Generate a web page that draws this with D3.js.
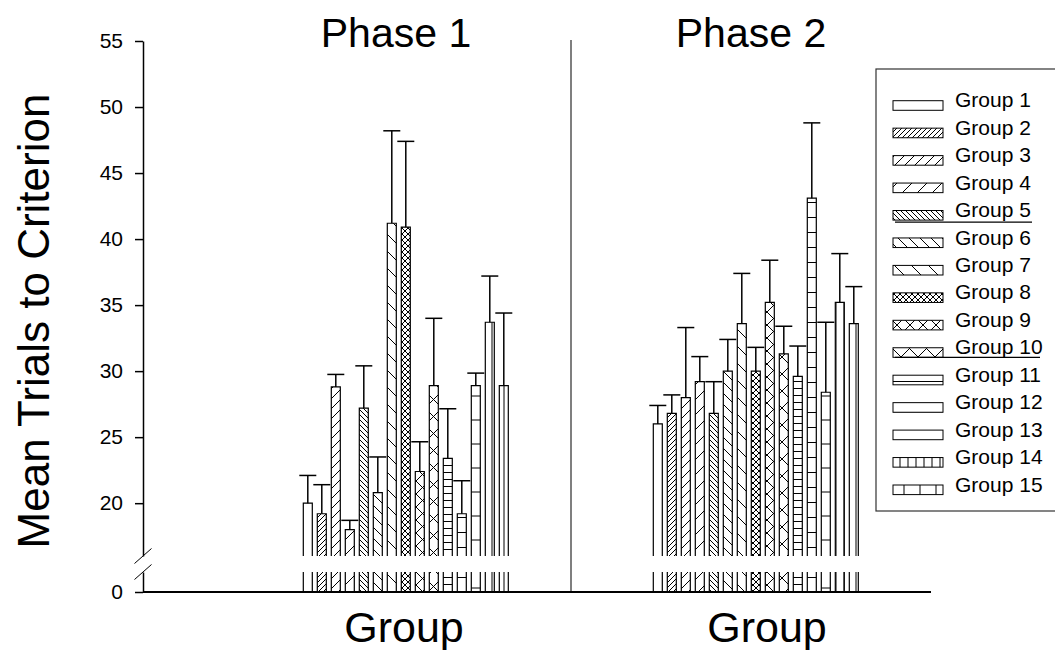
<!DOCTYPE html>
<html>
<head>
<meta charset="utf-8">
<script src="https://cdn.jsdelivr.net/npm/d3@7"></script>
<style>
  body { margin: 0; background: #fff; }
  svg { display: block; font-family: Arial, "Liberation Sans", sans-serif; }
</style>
</head>
<body>
<div class="chart"></div>
<script>
// data (means with upper error bar lengths)
const groups = ['Group 1', 'Group 2', 'Group 3', 'Group 4', 'Group 5', 'Group 6', 'Group 7', 'Group 8',
  'Group 9', 'Group 10', 'Group 11', 'Group 12', 'Group 13', 'Group 14', 'Group 15'];
const phases = ['Phase 1', 'Phase 2'];
const phase1Means = [20.0, 19.2, 28.8, 18.0, 27.2, 20.8, 41.2, 40.9, 22.4, 28.9, 23.4, 19.2, 28.9, 33.7, 28.9];
const phase1Errors = [2.1, 2.2, 0.95, 0.7, 3.2, 2.7, 7.0, 6.5, 2.25, 5.1, 3.75, 2.5, 0.95, 3.5, 5.5];
const phase2Means = [26.0, 26.8, 28.0, 29.2, 26.8, 30.0, 33.6, 30.0, 35.2, 31.3, 29.6, 43.1, 28.4, 35.2, 33.6];
const phase2Errors = [1.4, 1.4, 5.3, 1.9, 2.4, 2.4, 3.8, 1.8, 3.2, 2.1, 2.3, 5.7, 5.3, 3.7, 2.8];
const yTicksUpper = [20, 25, 30, 35, 40, 45, 50, 55];
const yTicksLower = [0];

// fill patterns for the groups, in order
const patternStyles = [
  {type: 'none'}, {type: 'fwd', s: 5}, {type: 'fwd', s: 10}, {type: 'fwd', s: 15},
  {type: 'back', s: 5}, {type: 'back', s: 11}, {type: 'back', s: 17},
  {type: 'cross', s: 6}, {type: 'cross', s: 13}, {type: 'cross', s: 17},
  {type: 'horiz', s: 7}, {type: 'horiz', s: 15}, {type: 'horiz', s: 24},
  {type: 'vert', s: 8}, {type: 'vert', s: 16}
];

const width = 1055;
const height = 650;
const axisX = 143;
const dividerX = 571;
const axisEndX = 931;
const baseY = 592;

// broken y axis: a short bottom piece for 0, the main piece from 16 up
const breakLow = 1.5;
const breakHigh = 16;
const yLow = d3.scaleLinear().domain([0, breakLow]).range([baseY, 572]);
const yUp = d3.scaleLinear().domain([breakHigh, 55]).range([556, 41]);

const xPhase = [
  d3.scaleBand().domain(groups).range([303.3, 508.3]).paddingInner(5 / 14).paddingOuter(0),
  d3.scaleBand().domain(groups).range([653.3, 858.3]).paddingInner(5 / 14).paddingOuter(0)
];
const phaseData = [
  groups.map((g, i) => ({group: g, i, mean: phase1Means[i], err: phase1Errors[i]})),
  groups.map((g, i) => ({group: g, i, mean: phase2Means[i], err: phase2Errors[i]}))
];

const svg = d3.select('.chart').append('svg')
  .attr('width', width).attr('height', height);

// patterns
const defs = svg.append('defs');
patternStyles.forEach((p, i) => {
  const s = p.s || 10;
  const pat = defs.append('pattern')
    .attr('id', 'pat' + i)
    .attr('patternUnits', 'userSpaceOnUse')
    .attr('width', s).attr('height', s);
  pat.append('rect').attr('width', s).attr('height', s).attr('fill', '#fff');
  let d = '';
  if (p.type === 'fwd' || p.type === 'cross') {
    d += `M-1,1 L1,-1 M0,${s} L${s},0 M${s - 1},${s + 1} L${s + 1},${s - 1} `;
  }
  if (p.type === 'back' || p.type === 'cross') {
    d += `M-1,${s - 1} L1,${s + 1} M0,0 L${s},${s} M${s - 1},-1 L${s + 1},1 `;
  }
  if (p.type === 'horiz') d += `M0,${s / 2} H${s}`;
  if (p.type === 'vert') d += `M${s / 2},0 V${s}`;
  if (d) {
    pat.append('path').attr('d', d)
      .attr('stroke', '#000').attr('stroke-width', 1).attr('fill', 'none');
  }
});

// y axis, two pieces
const yAxisUp = svg.append('g')
  .attr('transform', `translate(${axisX},0)`)
  .call(d3.axisLeft(yUp).tickValues(yTicksUpper).tickFormat(d3.format('d'))
    .tickSize(8).tickPadding(12).tickSizeOuter(0));
const yAxisLow = svg.append('g')
  .attr('transform', `translate(${axisX},0)`)
  .call(d3.axisLeft(yLow).tickValues(yTicksLower).tickFormat(d3.format('d'))
    .tickSize(8).tickPadding(12).tickSizeOuter(0));
[yAxisUp, yAxisLow].forEach(g => {
  g.selectAll('path, line').attr('stroke', '#000').attr('stroke-width', 1.5);
  g.selectAll('text').attr('font-size', 21).attr('fill', '#000')
    .attr('font-family', 'Arial, "Liberation Sans", sans-serif');
});

// break marks
[yUp(breakHigh), yLow(breakLow)].forEach(yb => {
  svg.append('line')
    .attr('x1', axisX - 8.5).attr('y1', yb + 7.5)
    .attr('x2', axisX + 8.5).attr('y2', yb - 7.5)
    .attr('stroke', '#000').attr('stroke-width', 1);
});

// divider between phases
svg.append('line')
  .attr('x1', dividerX).attr('x2', dividerX)
  .attr('y1', 40).attr('y2', baseY)
  .attr('stroke', '#555').attr('stroke-width', 1.5);

// bars
phaseData.forEach((rows, p) => {
  const x = xPhase[p];
  const w = x.bandwidth();
  const g = svg.append('g').attr('class', 'phase' + (p + 1));

  const bar = g.selectAll('.bar').data(rows).enter().append('g').attr('class', 'bar');
  // upper piece
  bar.append('rect')
    .attr('x', d => x(d.group))
    .attr('y', d => yUp(d.mean))
    .attr('width', w)
    .attr('height', d => yUp(breakHigh) - yUp(d.mean))
    .attr('fill', d => `url(#pat${d.i})`);
  bar.append('path')
    .attr('d', d => `M${x(d.group)},${yUp(breakHigh)} V${yUp(d.mean)} H${x(d.group) + w} V${yUp(breakHigh)}`)
    .attr('fill', 'none').attr('stroke', '#000').attr('stroke-width', 1.2);
  // lower piece
  bar.append('rect')
    .attr('x', d => x(d.group))
    .attr('y', yLow(breakLow))
    .attr('width', w)
    .attr('height', yLow(0) - yLow(breakLow))
    .attr('fill', d => `url(#pat${d.i})`);
  bar.append('path')
    .attr('d', d => `M${x(d.group)},${yLow(breakLow)} V${yLow(0)} M${x(d.group) + w},${yLow(breakLow)} V${yLow(0)}`)
    .attr('fill', 'none').attr('stroke', '#000').attr('stroke-width', 1.2);

  // error bars (upper only)
  bar.append('line')
    .attr('x1', d => x(d.group) + w / 2).attr('x2', d => x(d.group) + w / 2)
    .attr('y1', d => yUp(d.mean)).attr('y2', d => yUp(d.mean + d.err))
    .attr('stroke', '#000').attr('stroke-width', 1.5);
  bar.append('line')
    .attr('x1', d => x(d.group) + w / 2 - 8.5).attr('x2', d => x(d.group) + w / 2 + 8.5)
    .attr('y1', d => yUp(d.mean + d.err)).attr('y2', d => yUp(d.mean + d.err))
    .attr('stroke', '#000').attr('stroke-width', 1.5);
});

// x axis line
svg.append('line')
  .attr('x1', axisX).attr('x2', axisEndX)
  .attr('y1', baseY).attr('y2', baseY)
  .attr('stroke', '#000').attr('stroke-width', 2);

// titles and axis labels
const titleX = [396, 751];
const groupLabelX = [404, 767];
phases.forEach((ph, p) => {
  svg.append('text')
    .attr('x', titleX[p]).attr('y', 47)
    .attr('text-anchor', 'middle').attr('font-size', 41)
    .text(ph);
  svg.append('text')
    .attr('x', groupLabelX[p]).attr('y', 642)
    .attr('text-anchor', 'middle').attr('font-size', 43)
    .text('Group');
});
svg.append('text')
  .attr('transform', 'translate(49,321) rotate(-90)')
  .attr('text-anchor', 'middle').attr('font-size', 44)
  .text('Mean Trials to Criterion');

// legend
const legendX = 876;
const legendTop = 69;
const rowY = d3.scaleLinear().domain([0, 14]).range([107.3, 491.6]);
const legend = svg.append('g').attr('class', 'legend');
legend.append('rect')
  .attr('x', legendX).attr('y', legendTop)
  .attr('width', 200).attr('height', 442)
  .attr('fill', '#fff').attr('stroke', '#333').attr('stroke-width', 1.2);
const item = legend.selectAll('.item').data(groups).enter().append('g').attr('class', 'item');
item.append('rect')
  .attr('x', 893).attr('y', (d, i) => rowY(i) - 6.6)
  .attr('width', 50).attr('height', 9.6)
  .attr('fill', (d, i) => `url(#pat${i})`)
  .attr('stroke', '#000').attr('stroke-width', 1);
item.append('text')
  .attr('x', 955).attr('y', (d, i) => rowY(i))
  .attr('font-size', 21)
  .text(d => d);
// the odd rules under Group 5 and Group 10
[[4, 5, 1032], [9, 3, 1040]].forEach(([i, off, x2]) => {
  legend.append('line')
    .attr('x1', 895).attr('x2', x2)
    .attr('y1', rowY(i) + off).attr('y2', rowY(i) + off)
    .attr('stroke', '#000').attr('stroke-width', 1.2);
});
</script>
</body>
</html>
